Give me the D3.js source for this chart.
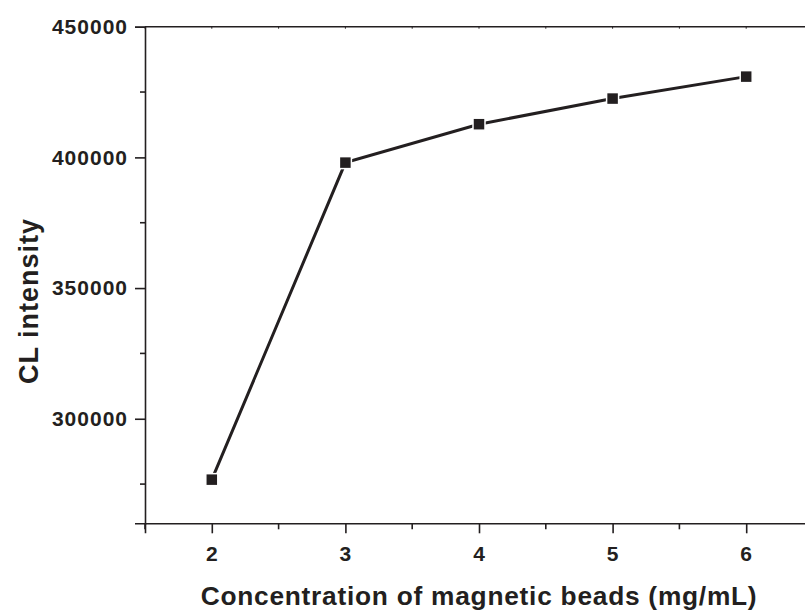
<!DOCTYPE html>
<html>
<head>
<meta charset="utf-8">
<script src="https://cdn.jsdelivr.net/npm/d3@7"></script>
<style>
  body { margin: 0; background: #fff; }
  svg { display: block; }
  text { font-family: "Liberation Sans", Arial, sans-serif; font-weight: bold; fill: #231f20; }
</style>
</head>
<body>
<svg id="chart" width="805" height="611"></svg>
<script>
// data
const concentrations = [2, 3, 4, 5, 6]
const intensities = [276700, 398000, 412700, 422500, 430900]
const xTickValues = [2, 3, 4, 5, 6]
const yTickValues = [300000, 350000, 400000, 450000]

const ink = '#231f20'
const svg = d3.select('#chart')
const plotLeft = 145, plotTop = 26.7, plotRight = 813, plotBottom = 523.3

const x = d3.scaleLinear().domain([1.5, 6.5]).range([plotLeft, plotRight])
const y = d3.scaleLinear().domain([260000, 450000]).range([plotBottom, plotTop])

// minor ticks at halves
const xMinor = d3.range(1.5, 6.6, 0.5).filter(v => !xTickValues.includes(v))
const yMinor = d3.range(275000, 450001, 25000).filter(v => !yTickValues.includes(v))

// frame lines
svg.append('line').attr('x1', plotLeft).attr('x2', plotRight).attr('y1', plotTop).attr('y2', plotTop)
    .attr('stroke', ink).attr('stroke-width', 1.6)
svg.append('line').attr('x1', plotRight).attr('x2', plotRight).attr('y1', plotTop).attr('y2', plotBottom)
    .attr('stroke', ink).attr('stroke-width', 1.6)

// top tiny ticks
svg.append('g').selectAll('line')
    .data(d3.range(1.5, 6.6, 0.5))
    .enter().append('line')
    .attr('x1', d => x(d)).attr('x2', d => x(d))
    .attr('y1', plotTop).attr('y2', plotTop + 2)
    .attr('stroke', ink).attr('stroke-width', 1)

// bottom axis
const xAxis = svg.append('g').attr('transform', `translate(0,${plotBottom})`)
    .call(d3.axisBottom(x).tickValues(xTickValues).tickSize(10).tickPadding(13).tickFormat(d3.format('d')))
xAxis.select('.domain').attr('stroke', ink).attr('stroke-width', 1.6)
xAxis.selectAll('.tick line').attr('stroke', ink).attr('stroke-width', 1.6)
xAxis.selectAll('.tick text').attr('font-size', 21).attr('fill', ink)
    .attr('font-family', null).attr('letter-spacing', 1)
xAxis.append('g').selectAll('line').data(xMinor).enter().append('line')
    .attr('x1', d => x(d)).attr('x2', d => x(d)).attr('y1', 0).attr('y2', 6)
    .attr('stroke', ink).attr('stroke-width', 1.6)

// left axis
const yAxis = svg.append('g').attr('transform', `translate(${plotLeft},0)`)
    .call(d3.axisLeft(y).tickValues(yTickValues).tickSize(10).tickPadding(7).tickFormat(d3.format('d')))
yAxis.select('.domain').attr('stroke', ink).attr('stroke-width', 1.6)
yAxis.selectAll('.tick line').attr('stroke', ink).attr('stroke-width', 1.6)
yAxis.selectAll('.tick text').attr('font-size', 21).attr('fill', ink)
    .attr('font-family', null).attr('letter-spacing', 1)
yAxis.append('g').selectAll('line').data(yMinor).enter().append('line')
    .attr('x1', -5).attr('x2', 0).attr('y1', d => y(d)).attr('y2', d => y(d))
    .attr('stroke', ink).attr('stroke-width', 1.6)

// series
const points = concentrations.map((c, i) => [c, intensities[i]])
svg.append('path')
    .datum(points)
    .attr('fill', 'none')
    .attr('stroke', ink)
    .attr('stroke-width', 3)
    .attr('d', d3.line().x(d => x(d[0])).y(d => y(d[1])))

svg.append('g').selectAll('rect')
    .data(points)
    .enter().append('rect')
    .attr('x', d => x(d[0]) - 6)
    .attr('y', d => y(d[1]) - 6)
    .attr('width', 12).attr('height', 12)
    .attr('fill', ink)
    .attr('stroke', '#fff').attr('stroke-width', 1.5)

// axis titles
svg.append('text')
    .attr('x', 479).attr('y', 605)
    .attr('text-anchor', 'middle')
    .attr('font-size', 26.3)
    .attr('letter-spacing', 0.75)
    .text('Concentration of magnetic beads (mg/mL)')

svg.append('text')
    .attr('transform', 'translate(38,301) rotate(-90)')
    .attr('text-anchor', 'middle')
    .attr('font-size', 27)
    .attr('letter-spacing', 1)
    .text('CL intensity')
</script>
</body>
</html>
